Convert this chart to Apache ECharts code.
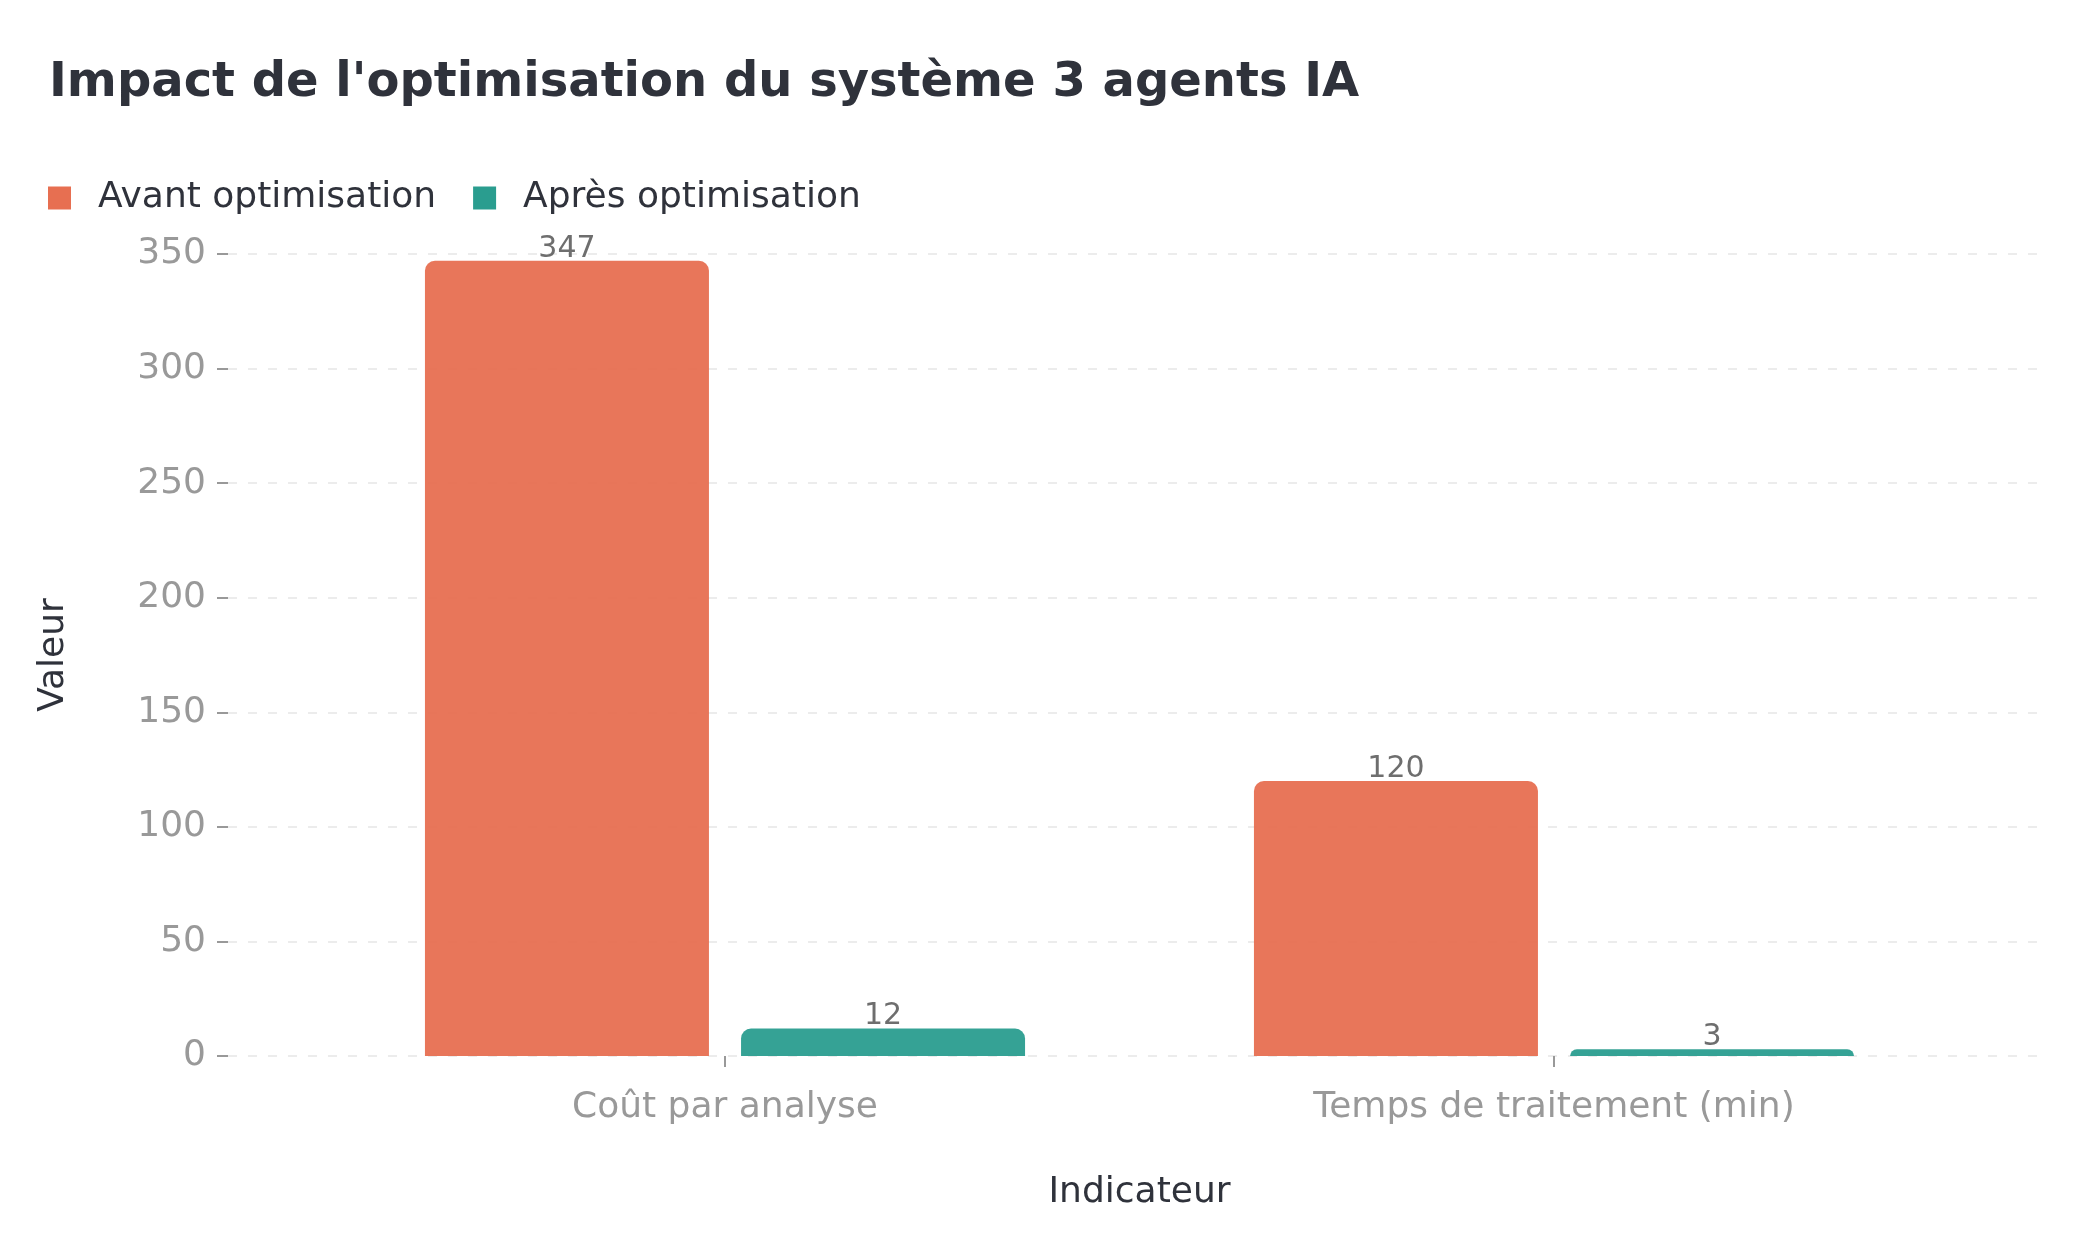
<!DOCTYPE html>
<html>
<head>
<meta charset="utf-8">
<script src="https://cdn.jsdelivr.net/npm/echarts@6/dist/echarts.min.js"></script>
<style>
html,body{margin:0;padding:0;background:#ffffff;}
#chart{width:2100px;height:1260px;}
</style>
</head>
<body>
<div id="chart"></div>
<script>
var titleText = "Impact de l'optimisation du système 3 agents IA";
var categories = ["Coût par analyse", "Temps de traitement (min)"];
var seriesNames = ["Avant optimisation", "Après optimisation"];
var avantValues = [347, 120];
var apresValues = [12, 3];
var yMin = 0, yMax = 350, yStep = 50;
var xAxisName = "Indicateur";
var yAxisName = "Valeur";

var FONT = "DejaVu Sans";
var DARK = "#2f323b";
var GRAY = "#999999";
var colors = ["#E76F51", "#2A9D8F"];

var chart = echarts.init(document.getElementById('chart'), null, {renderer: 'canvas'});

function barSeries(name, values, color) {
  return {
    name: name,
    type: 'bar',
    xAxisIndex: 1,
    yAxisIndex: 1,
    data: values,
    barWidth: 284,
    barGap: '11.3%',
    itemStyle: {color: color, opacity: 0.95, borderRadius: [10, 10, 0, 0]},
    label: {
      show: true, position: 'top', distance: -3,
      fontFamily: FONT, fontSize: 30, color: '#666666'
    },
    emphasis: {disabled: true}
  };
}

chart.setOption({
  animation: false,
  backgroundColor: '#ffffff',
  textStyle: {fontFamily: FONT},
  title: {
    text: titleText,
    left: 49, top: 60, padding: 0,
    textStyle: {fontFamily: FONT, fontSize: 48, fontWeight: 'bold', color: DARK}
  },
  legend: {
    data: seriesNames,
    left: 48, top: 180, padding: 0,
    icon: 'rect', itemWidth: 23, itemHeight: 23, itemGap: 37,
    itemStyle: {opacity: 1},
    textStyle: {fontFamily: FONT, fontSize: 36, color: DARK, padding: [0, 0, 0, 22]}
  },
  grid: [
    {left: 228, right: 57, top: 254, bottom: 204},
    {left: 310.5, right: 131.5, top: 254, bottom: 204}
  ],
  xAxis: [
    {gridIndex: 0, type: 'value', show: false, min: 0, max: 1},
    {
      gridIndex: 1, type: 'category', data: categories,
      name: xAxisName, nameLocation: 'middle', nameGap: 119,
      nameTextStyle: {fontFamily: FONT, fontSize: 36, color: DARK},
      axisLine: {show: false},
      axisTick: {show: true, alignWithLabel: true, length: 11, lineStyle: {color: GRAY, width: 2}},
      axisLabel: {fontFamily: FONT, fontSize: 36, color: GRAY, margin: 34},
      splitLine: {show: false}
    }
  ],
  yAxis: [
    {
      gridIndex: 0, type: 'value', min: yMin, max: yMax, interval: yStep,
      name: yAxisName, nameLocation: 'middle', nameGap: 156,
      nameTextStyle: {fontFamily: FONT, fontSize: 36, color: DARK},
      axisLine: {show: false},
      axisTick: {show: true, length: 11, lineStyle: {color: GRAY, width: 2}},
      axisLabel: {fontFamily: FONT, fontSize: 36, color: GRAY, margin: 22},
      splitLine: {show: true, lineStyle: {color: '#e6e6e6', width: 1.5, type: [9, 11]}}
    },
    {gridIndex: 1, type: 'value', min: yMin, max: yMax, interval: yStep, show: false, splitLine: {show: false}}
  ],
  series: [
    barSeries(seriesNames[0], avantValues, colors[0]),
    barSeries(seriesNames[1], apresValues, colors[1])
  ]
});
</script>
</body>
</html>
